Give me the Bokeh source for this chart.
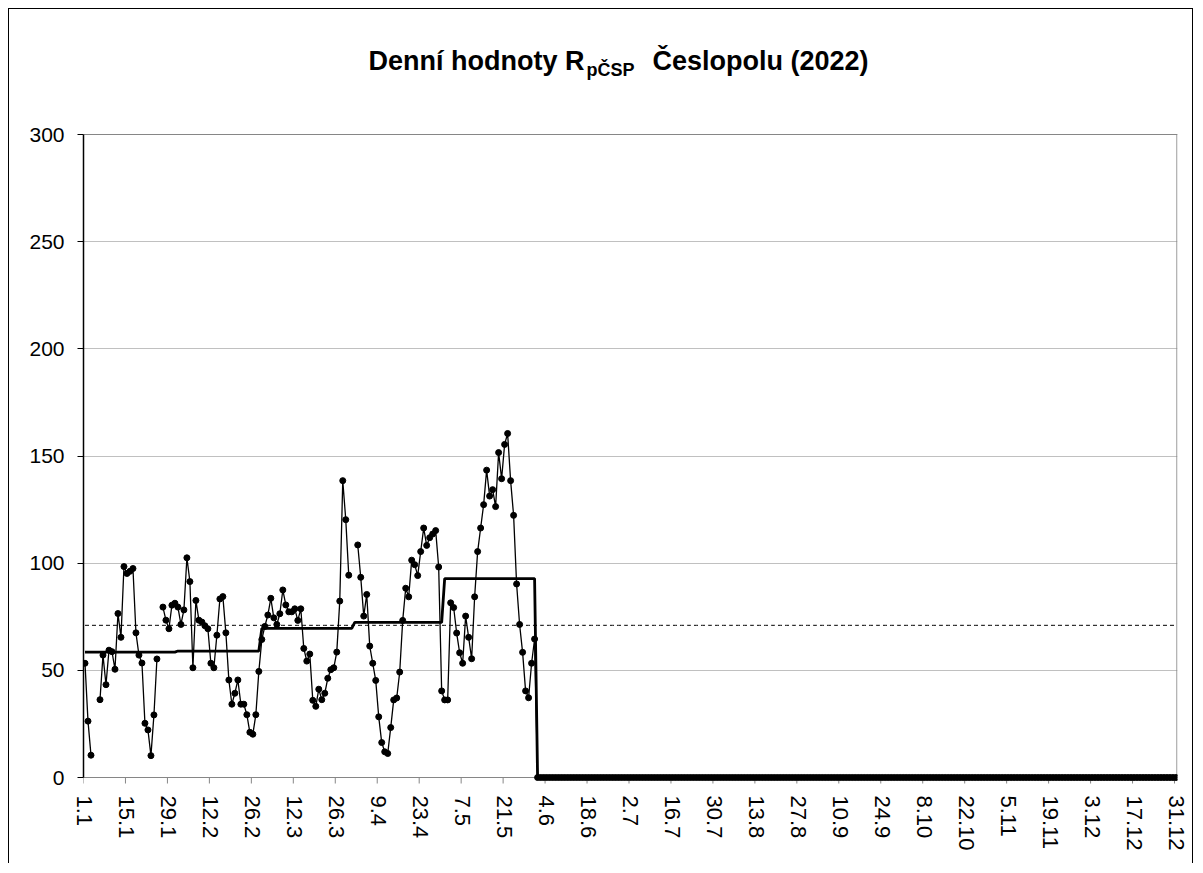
import datetime
from bokeh.plotting import figure
from bokeh.models import Range1d, FixedTicker
from bokeh.core.properties import value
from bokeh.embed import file_html
from bokeh.resources import INLINE

NaN = float("nan")

# daily values R_pČSP (Jan - May 2022), NaN = missing day
jan = [53.3, 26.3, 10.4, NaN, NaN, 36.3, 57.1, 43.3, 59.4, 58.7, 50.5, 76.5, 65.4, 98.4, 95.2, 96.2,
       97.5, 67.5, 57.1, 53.4, 25.3, 22.2, 10.2, 29.2, 55.3, NaN, 79.5, 73.4, 69.4, 80.4, 81.3]
feb = [79.5, 71.4, 78.2, 102.5, 91.4, 51.2, 82.6, 73.4, 72.5, 70.8, 69.4, 53.3, 51.2, 66.4, 83.3, 84.4,
       67.5, 45.5, 34.2, 39.3, 45.5, 34.2, 34.2, 29.3, 21.1, 20.2, 29.3, 49.5]
mar = [64.4, 70.5, 75.8, 83.6, 74.5, 71.4, 76.4, 87.5, 80.5, 77.3, 77.3, 78.7, 73.3, 78.7, 60.2, 54.3,
       57.6, 36.0, 33.2, 41.2, 36.3, 39.3, 46.3, 50.3, 51.2, 58.5, 82.3, 138.5, 120.3, 94.4, NaN]
apr = [NaN, 108.5, 93.4, 75.3, 85.4, 61.3, 53.3, 45.3, 28.3, 16.3, 12.0, 11.2, 23.3, 36.2, 37.1, 49.2,
       73.3, 88.3, 84.3, 101.4, 99.3, 94.2, 105.4, 116.4, 108.3, 111.9, 113.6, 115.2, 98.2, 40.4]
may = [36.2, 36.2, 81.5, 79.3, 67.4, 58.2, 53.3, 75.3, 65.4, 55.4, 84.3, 105.4, 116.4, 127.3, 143.4, 131.3,
       134.3, 126.4, 151.6, 139.4, 155.4, 160.5, 138.5, 122.3, 90.3, 71.4, 58.4, 40.4, 37.2, 53.3, 64.6]
jun_dec = [0.0] * 214  # all days June - December read as 0

# monthly means (thick step line) and annual mean (dashed)
monthly_means = [58.5, 59.0, 69.6, 72.4, 92.8, 0, 0, 0, 0, 0, 0, 0]
annual_mean = 71.0

tick_labels = ["1.1", "15.1", "29.1", "12.2", "26.2", "12.3", "26.3", "9.4", "23.4", "7.5", "21.5",
               "4.6", "18.6", "2.7", "16.7", "30.7", "13.8", "27.8", "10.9", "24.9", "8.10", "22.10",
               "5.11", "19.11", "3.12", "17.12", "31.12"]
y_ticks = [0, 50, 100, 150, 200, 250, 300]

title_main = "Denní hodnoty R"
title_sub = "pČSP"
title_rest = "Česlopolu (2022)"

# ---- build series ----
daily = jan + feb + mar + apr + may + jun_dec
days = list(range(1, len(daily) + 1))
month_lengths = [31, 28, 31, 30, 31, 30, 31, 31, 30, 31, 30, 31]
daily_mean = []
for m, n in zip(monthly_means, month_lengths):
    daily_mean += [m] * n
annual_line = [annual_mean] * len(days)

def doy(lbl):
    d, m = lbl.split(".")
    return datetime.date(2022, int(m), int(d)).timetuple().tm_yday

label_pos = [float(doy(l)) for l in tick_labels]     # labels at category centres
tick_pos = [doy(l) - 0.5 for l in tick_labels]       # tick marks at category boundaries

FONT = "Liberation Sans"
X0, X1 = 0.5, 365.5
YMAX_AX = y_ticks[-1]
K = 643.0 / YMAX_AX                # px per unit
Y_TOP = (777 - 20) / K             # frame extends up to hold the title
Y_BOT = -(784 - 777) / K           # a little below zero so markers at 0 are whole
TICK_LEN = 6 / K

p = figure(width=1185, height=855, output_backend="svg", toolbar_location=None,
           x_range=Range1d(X0, X1), y_range=Range1d(Y_BOT, Y_TOP),
           min_border_left=74, min_border_right=17, min_border_top=11, min_border_bottom=80,
           background_fill_color="white", border_fill_color="white")
p.styles = {"margin-left": "8px", "margin-top": "8px",
            "border-left": "1px solid black", "border-top": "1px solid black",
            "border-right": "1px solid black"}
p.outline_line_color = None

p.xgrid.visible = False
p.ygrid.grid_line_color = "#c0c0c0"
p.ygrid.grid_line_width = 1
p.ygrid.ticker = FixedTicker(ticks=y_ticks)

p.yaxis.ticker = FixedTicker(ticks=y_ticks)
p.yaxis.bounds = (0, YMAX_AX)
p.yaxis.axis_line_color = "black"
p.yaxis.axis_line_width = 1.5
p.yaxis.major_tick_line_color = "black"
p.yaxis.major_tick_out = 6
p.yaxis.major_tick_in = 0
p.yaxis.minor_tick_line_color = None
p.yaxis.major_label_standoff = 13
p.yaxis.major_label_text_font = FONT
p.yaxis.major_label_text_font_size = "21px"
p.yaxis.major_label_text_color = "black"

# bottom axis only carries the labels; its line and ticks are drawn at y=0 below
p.xaxis.ticker = FixedTicker(ticks=label_pos)
p.xaxis.major_label_overrides = {pos: lbl for pos, lbl in zip(label_pos, tick_labels)}
p.xaxis.major_label_orientation = "vertical"
p.xaxis.axis_line_color = None
p.xaxis.major_tick_line_color = None
p.xaxis.major_tick_out = 0
p.xaxis.major_tick_in = 0
p.xaxis.minor_tick_line_color = None
p.xaxis.major_label_standoff = 11
p.xaxis.major_label_text_font = FONT
p.xaxis.major_label_text_font_size = "22px"
p.xaxis.major_label_text_color = "black"

# x-axis line and tick marks at zero, plot-area border (top at 300, right edge)
p.line([X0, X1], [0, 0], line_color="#868686", line_width=1)
p.segment(x0=tick_pos, y0=[0] * len(tick_pos), x1=tick_pos, y1=[-TICK_LEN] * len(tick_pos),
          line_color="#868686", line_width=1)
p.line([X0, X1], [YMAX_AX, YMAX_AX], line_color="#868686", line_width=1)
p.line([X1 - 0.2, X1 - 0.2], [0, YMAX_AX], line_color="#868686", line_width=1)

p.line(days, annual_line, line_color="black", line_width=1, line_dash="4 3")
p.line(days, daily_mean, line_color="black", line_width=2.8)
p.line(days, daily, line_color="black", line_width=1.3)
p.scatter(days, daily, size=6, color="black")

# title as real text with subscript
def px2x(px):
    return X0 + (px - 83) / (1094 / (X1 - X0))

def py2y(py):
    return (777 - py) / K

p.text(x=[px2x(584)], y=[py2y(60)], text=[title_main], text_align="right",
       text_baseline="middle", text_font=value(FONT), text_font_style="bold",
       text_font_size=value("27px"), text_color="black")
p.text(x=[px2x(586)], y=[py2y(69)], text=[title_sub], text_align="left",
       text_baseline="middle", text_font=value(FONT), text_font_style="bold",
       text_font_size=value("18px"), text_color="black")
p.text(x=[px2x(652)], y=[py2y(60)], text=[title_rest], text_align="left",
       text_baseline="middle", text_font=value(FONT), text_font_style="bold",
       text_font_size=value("27px"), text_color="black")

open("out.html", "w").write(file_html(p, INLINE))
